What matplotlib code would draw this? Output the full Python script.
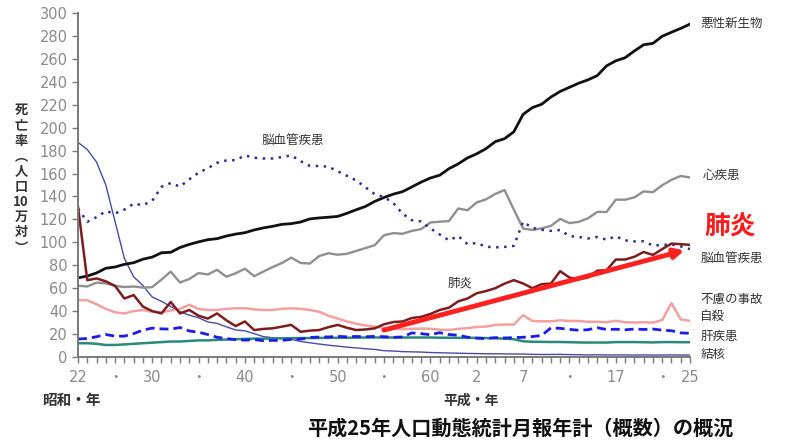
import matplotlib
matplotlib.use('Agg')
import matplotlib.pyplot as plt
import numpy as np

plt.rcParams['font.family'] = ['Noto Sans CJK JP', 'DejaVu Sans']

# years: Showa 22 (1947) .. Heisei 25 (2013)
years = list(range(1947, 2014))

cancer = [69.0, 70.6, 73.3, 77.4, 78.5, 80.8, 82.2, 85.3, 87.1, 90.9,
          91.3, 95.5, 98.2, 100.4, 102.3, 103.2, 105.5, 107.2, 108.4, 110.8,
          112.6, 114.0, 115.7, 116.3, 117.7, 120.4, 121.3, 121.9, 122.6, 125.3,
          128.4, 131.3, 135.7, 139.1, 142.0, 144.2, 148.3, 152.5, 156.1, 158.5,
          164.2, 168.4, 173.6, 177.2, 181.7, 187.8, 190.4, 196.4, 211.6, 217.5,
          220.4, 226.7, 231.6, 235.2, 238.8, 241.7, 245.4, 253.9, 258.3, 261.0,
          266.9, 272.3, 273.5, 279.7, 283.2, 286.6, 290.3]
heart = [62.2, 61.5, 64.9, 64.2, 62.0, 61.0, 61.5, 60.5, 60.9, 67.5,
         74.5, 65.0, 68.0, 73.2, 72.0, 76.0, 70.0, 73.0, 77.0, 70.5,
         74.5, 78.5, 82.0, 86.7, 82.0, 81.5, 88.0, 90.5, 89.2, 90.0,
         92.5, 95.0, 97.5, 106.2, 108.0, 107.5, 110.0, 111.5, 117.3, 118.0,
         118.5, 129.5, 128.0, 134.8, 137.5, 142.2, 145.6, 128.6, 112.0, 110.8,
         112.2, 114.3, 120.4, 116.8, 117.8, 121.0, 126.5, 126.5, 137.2, 137.2,
         139.2, 144.4, 143.7, 149.8, 154.5, 157.9, 156.5]
cerebro = [129.4, 117.9, 122.0, 127.1, 125.2, 128.5, 133.7, 132.4, 136.1, 148.4,
           151.7, 148.6, 154.9, 160.7, 164.6, 169.4, 171.4, 171.7, 175.8, 173.8,
           173.1, 173.1, 174.4, 175.8, 170.8, 166.7, 166.5, 166.0, 162.0, 158.0,
           154.0, 148.0, 142.0, 139.5, 134.3, 125.0, 119.3, 118.2, 112.2, 106.9,
           101.7, 105.5, 98.5, 99.4, 96.2, 95.6, 96.0, 96.9, 117.9, 112.6,
           111.0, 110.0, 110.8, 105.5, 104.7, 103.4, 104.7, 102.3, 105.3, 101.7,
           100.8, 100.9, 97.2, 97.7, 98.2, 96.5, 94.1]
pneumonia = [131.0, 67.0, 68.5, 66.0, 62.0, 51.0, 54.0, 44.0, 40.0, 38.0,
             48.0, 38.0, 41.0, 36.0, 33.5, 38.0, 32.0, 27.0, 31.0, 23.5,
             24.5, 25.0, 26.5, 28.0, 22.0, 23.0, 23.5, 26.0, 28.0, 25.5,
             23.5, 24.0, 25.0, 28.5, 30.5, 31.0, 34.0, 35.0, 37.5, 41.0,
             43.0, 48.5, 51.0, 55.6, 57.5, 60.0, 64.0, 67.0, 64.1, 60.0,
             63.5, 64.0, 74.9, 69.2, 67.8, 69.4, 75.3, 75.7, 85.0, 85.0,
             87.4, 91.6, 89.0, 94.1, 98.9, 98.4, 97.8]
tuberculosis = [187.2, 181.0, 170.0, 150.0, 118.0, 86.0, 70.0, 62.4, 52.3, 48.6,
                44.0, 39.5, 36.5, 34.2, 30.6, 29.3, 26.3, 23.6, 22.8, 20.3,
                17.8, 16.8, 16.1, 15.4, 13.6, 12.4, 11.3, 10.3, 9.5, 8.6,
                7.9, 7.2, 6.6, 5.5, 5.2, 4.7, 4.5, 4.3, 3.9, 3.7,
                3.5, 3.3, 3.1, 3.0, 2.8, 2.8, 2.7, 2.6, 2.6, 2.3,
                2.2, 2.2, 2.3, 2.1, 2.0, 1.8, 1.9, 1.8, 1.8, 1.8,
                1.7, 1.8, 1.7, 1.7, 1.8, 1.7, 1.7]
accidents = [49.5, 49.5, 46.0, 42.0, 39.0, 38.0, 40.0, 41.0, 39.5, 39.0,
             40.5, 42.0, 45.5, 42.0, 41.0, 41.0, 42.0, 42.5, 42.5, 41.5,
             41.0, 41.0, 42.0, 42.5, 42.0, 41.0, 39.5, 36.0, 33.5, 31.0,
             29.0, 27.5, 26.5, 25.1, 24.5, 24.3, 24.6, 24.8, 24.6, 23.8,
             23.5, 24.5, 25.2, 26.2, 26.5, 28.0, 28.3, 28.3, 36.5, 31.4,
             31.1, 31.1, 32.0, 31.4, 31.4, 30.7, 30.7, 30.3, 31.6, 30.3,
             30.1, 30.3, 30.0, 32.2, 47.1, 32.8, 31.5]
suicide = [15.7, 16.1, 17.7, 19.6, 18.2, 18.2, 20.4, 23.4, 25.2, 24.5,
           24.3, 25.7, 22.7, 21.6, 19.6, 17.2, 16.1, 15.1, 14.7, 15.2,
           14.2, 14.5, 14.5, 15.3, 15.6, 17.0, 17.4, 17.5, 18.0, 17.6,
           17.9, 17.6, 18.0, 17.7, 17.1, 17.5, 21.0, 20.4, 19.4, 21.2,
           19.6, 19.0, 17.3, 16.4, 16.1, 16.9, 16.6, 16.9, 17.2, 17.8,
           18.8, 25.4, 25.0, 24.1, 23.3, 23.8, 25.5, 24.0, 24.2, 23.7,
           24.4, 24.0, 24.4, 23.4, 22.9, 21.0, 20.7]
liver = [12.0, 12.0, 11.5, 10.5, 10.5, 11.0, 11.5, 12.0, 12.5, 13.0,
         13.5, 13.5, 14.0, 14.5, 14.5, 15.0, 15.2, 15.5, 15.8, 16.0,
         16.0, 16.2, 16.3, 16.4, 16.5, 16.5, 16.6, 16.7, 16.8, 16.8,
         16.9, 17.0, 17.0, 17.0, 17.0, 17.0, 17.0, 17.0, 17.0, 16.8,
         16.8, 16.7, 16.7, 16.7, 16.5, 16.3, 16.0, 15.5, 13.7, 13.3,
         13.2, 13.1, 13.1, 12.9, 12.7, 12.6, 12.6, 12.6, 13.0, 13.0,
         13.0, 12.9, 12.7, 13.0, 13.0, 12.9, 12.9]

tick_years = [1947, 1951, 1955, 1960, 1965, 1970, 1975, 1980, 1985, 1990,
              1995, 2000, 2005, 2010, 2013]
tick_labels = ['22', '・', '30', '・', '40', '・', '50', '・', '60', '2',
               '7', '・', '17', '・', '25']

# pneumonia trend arrow (start, end)
arrow_from = (1980.0, 23.5)
arrow_to = (2012.4, 93.0)

fig = plt.figure(figsize=(7.89, 4.41), dpi=100)
ax = fig.add_axes([78 / 789, 1 - 357 / 441, (690 - 78) / 789, (357 - 13) / 441])

ax.plot(years, tuberculosis, color='#4a4aa6', lw=1.0)
ax.plot(years, liver, color='#2a8a7a', lw=1.8)
ax.plot(years, accidents, color='#f2a0a0', lw=1.8)
ax.plot(years, heart, color='#8f8f8f', lw=1.7)
ax.plot(years, cancer, color='#111111', lw=2.0)
ax.plot(years, cerebro, color='#2e2e90', lw=1.8, linestyle=(0, (1, 2.2)))
ax.plot(years, suicide, color='#1c1ce6', lw=2.0, linestyle=(0, (3.2, 1.8)))
ax.plot(years, pneumonia, color='#7d1e1e', lw=1.8)

ax.annotate('', xy=arrow_to, xytext=arrow_from,
            arrowprops=dict(arrowstyle='-|>', color='#ff2020', lw=3.5,
                            mutation_scale=14, shrinkA=0, shrinkB=0))

ax.set_xlim(1947, 2013)
ax.set_ylim(0, 300)
ax.set_yticks(range(0, 301, 20))
ax.set_xticks(tick_years)
ax.set_xticklabels(tick_labels)
ax.set_xticks(years, minor=True)

for s in ['top', 'right']:
    ax.spines[s].set_visible(False)
for s in ['left', 'bottom']:
    ax.spines[s].set_color('#7a7a7a')
    ax.spines[s].set_linewidth(1.4)
ax.tick_params(axis='both', which='both', color='#7a7a7a', direction='out',
               length=4, width=1.0, labelcolor='#8a8a8a', labelsize=10.5)
ax.tick_params(axis='x', pad=5)
for lab in ax.get_xticklabels() + ax.get_yticklabels():
    lab.set_fontfamily(['DejaVu Sans', 'Noto Sans CJK JP'])

# line labels
lab_kw = dict(fontsize=9, color='#333333', ha='left', va='center', clip_on=False)
ax.text(2014.1, 291, '悪性新生物', **lab_kw)
ax.text(2014.4, 158, '心疾患', **lab_kw)
ax.text(2014.1, 86, '脳血管疾患', **lab_kw)
ax.text(2014.1, 50.5, '不慮の事故', **lab_kw)
ax.text(2014.1, 35, '自殺', **lab_kw)
ax.text(2014.1, 18.3, '肝疾患', **lab_kw)
ax.text(2014.1, 2.6, '結核', **lab_kw)
ax.text(1970.2, 189, '脳血管疾患', fontsize=9, color='#333333', ha='center', va='center')
ax.text(1988.2, 64.5, '肺炎', fontsize=9, color='#333333', ha='center', va='center')
ax.text(2017.3, 113, '肺炎', fontsize=18.5, color='#ff1a1a', fontweight='bold',
        ha='center', va='center', clip_on=False)

# vertical y label, one character per row
ylab = ['死', '亡', '率', '︵', '人', '口', '10', '万', '対', '︶']
for i, ch in enumerate(ylab):
    fig.text(21 / 789, 1 - (110 + i * 15.3) / 441, ch, fontsize=9.5, fontweight='bold',
             color='#333333', ha='center', va='center')

fig.text(71 / 789, 1 - 400 / 441, '昭和・年', fontsize=10.5, fontweight='bold',
         color='#333333', ha='center', va='center')
fig.text(471 / 789, 1 - 401 / 441, '平成・年', fontsize=10, fontweight='bold',
         color='#333333', ha='center', va='center')
fig.text(520 / 789, 1 - 428 / 441, '平成25年人口動態統計月報年計（概数）の概況',
         fontsize=14.5, fontweight='bold', color='#111111', ha='center', va='center')

fig.savefig('out.png', dpi=100)
